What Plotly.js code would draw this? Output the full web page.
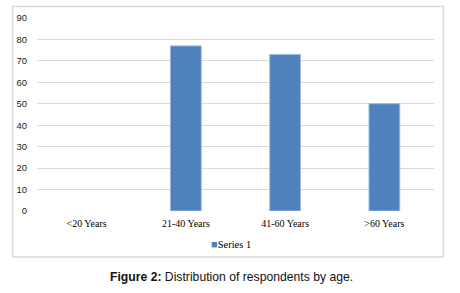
<!DOCTYPE html>
<html>
<head>
<meta charset="utf-8">
<script src="https://cdn.plot.ly/plotly-3.0.1.min.js"></script>
<style>html,body{margin:0;padding:0;background:#fff;}#chart{width:460px;height:293px;}</style>
</head>
<body>
<div id="chart"></div>
<script>
var categories = ['<20 Years', '21-40 Years', '41-60 Years', '>60 Years'];
var series1 = [0, 77, 73, 50];
var yTicks = [0, 10, 20, 30, 40, 50, 60, 70, 80, 90];
var seriesName = 'Series 1';
var caption = '<b>Figure 2:</b> Distribution of respondents by age.';

var W = 460, H = 293;
var L = 37, R = 434, T = 18, B = 211;
function px(x) { return (x - L) / (R - L); }
function py(y) { return (B - y) / (B - T); }

var barColor = '#4f81bd';

var trace = {
  type: 'bar',
  x: categories,
  y: series1,
  name: seriesName,
  marker: {
    color: barColor,
    line: { color: '#9db8dc', width: series1.map(function (v) { return v > 0 ? 1 : 0; }) }
  },
  showlegend: false,
  hoverinfo: 'none'
};

var layout = {
  width: W, height: H,
  margin: { l: L, r: W - R, t: T, b: H - B, pad: 0 },
  paper_bgcolor: '#ffffff',
  plot_bgcolor: '#ffffff',
  bargap: 0.69,
  xaxis: {
    type: 'category',
    showgrid: false,
    zeroline: false,
    showline: false,
    ticks: '',
    ticklabelstandoff: 5,
    tickfont: { family: 'Liberation Serif, Times New Roman, serif', size: 10, color: '#000000' },
    fixedrange: true
  },
  yaxis: {
    range: [0, 90],
    tickvals: yTicks,
    ticktext: yTicks.map(String),
    showgrid: true,
    gridcolor: '#d9d9d9',
    gridwidth: 1,
    zeroline: false,
    showline: false,
    ticks: '',
    ticklabelstandoff: 9,
    tickfont: { family: 'Liberation Sans, Arial, sans-serif', size: 9.5, color: '#1a1a1a' },
    fixedrange: true
  },
  showlegend: false,
  shapes: [{
    type: 'rect', xref: 'paper', yref: 'paper',
    x0: px(12.5), x1: px(443.5), y0: py(257), y1: py(6.5),
    line: { color: '#d9d9d9', width: 1.5 },
    fillcolor: 'rgba(0,0,0,0)',
    layer: 'below'
  }],
  annotations: [{
    xref: 'paper', yref: 'paper',
    x: px(231), y: py(243.5),
    xanchor: 'center', yanchor: 'middle',
    showarrow: false,
    text: '<span style="color:' + barColor + ';font-size:11px">■</span>' + seriesName,
    font: { family: 'Liberation Serif, Times New Roman, serif', size: 10.5, color: '#000000' }
  }, {
    xref: 'paper', yref: 'paper',
    x: px(231), y: py(277),
    xanchor: 'center', yanchor: 'middle',
    showarrow: false,
    text: caption,
    font: { family: 'Liberation Sans, Arial, sans-serif', size: 12.2, color: '#111111' }
  }]
};

Plotly.newPlot('chart', [trace], layout, { staticPlot: true, displayModeBar: false });
</script>
</body>
</html>
